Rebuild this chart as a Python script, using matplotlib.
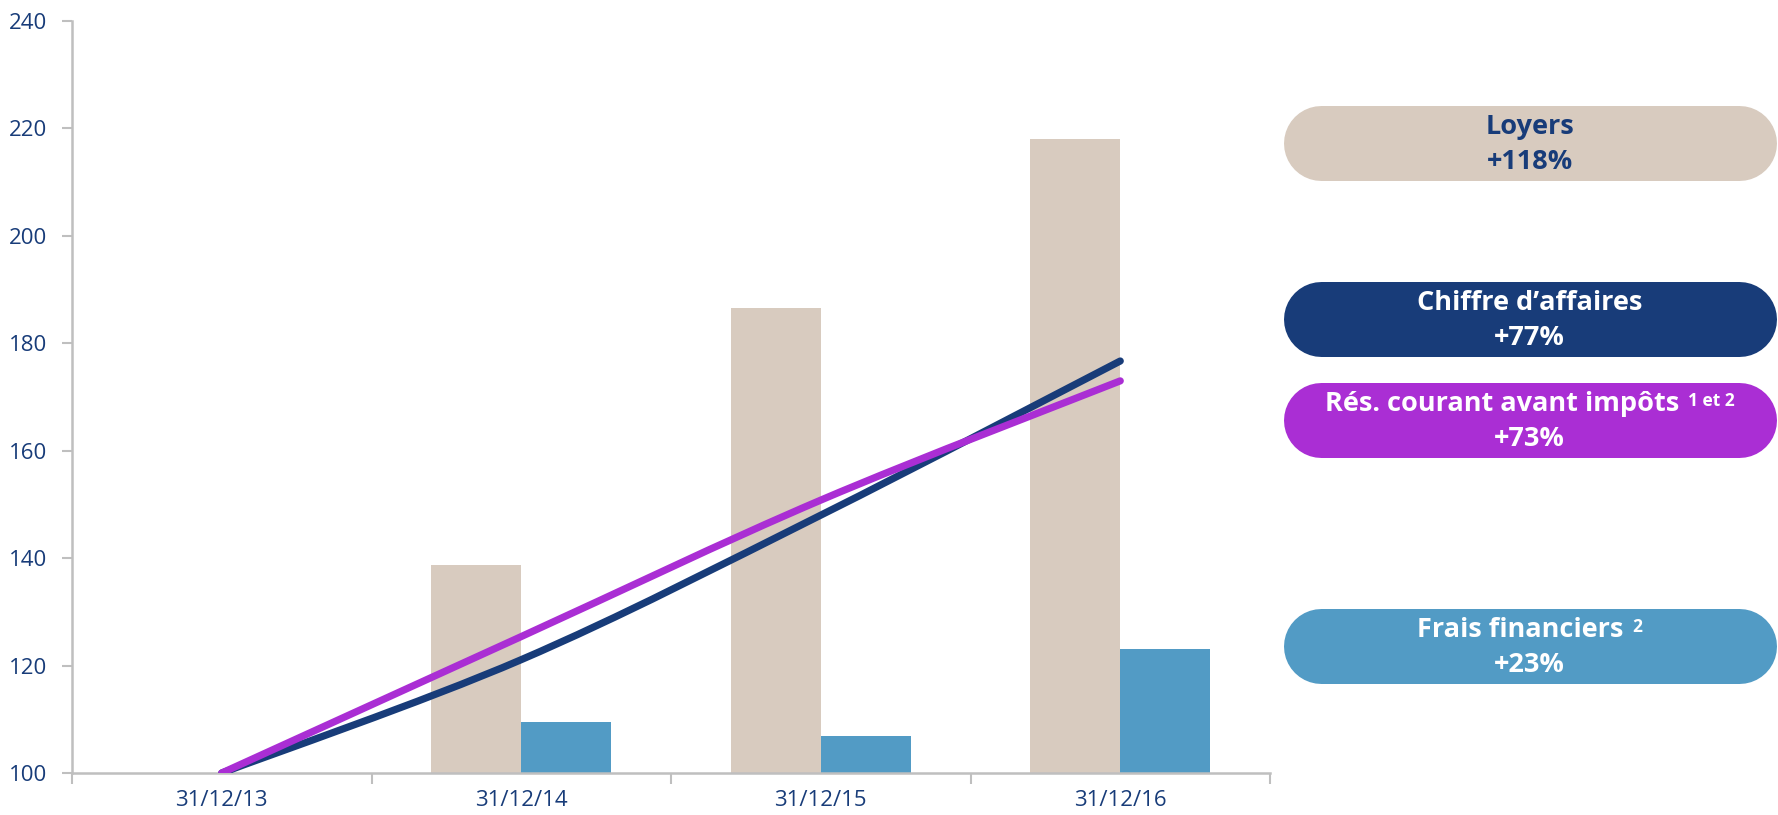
import matplotlib
matplotlib.use("Agg")
import matplotlib.pyplot as plt
import numpy as np
from matplotlib.path import Path
from matplotlib.patches import PathPatch

plt.rcParams['font.family'] = ['Open Sans', 'DejaVu Sans']

# data (index 100 at 31/12/13)
dates = ["31/12/13", "31/12/14", "31/12/15", "31/12/16"]
loyers = [100, 138.8, 186.5, 218.0]
frais = [100, 109.5, 106.8, 123.0]
chiffre = [100, 121.1, 148.0, 176.7]
resultat = [100, 125.4, 150.8, 173.0]

box_titles = ["Loyers", "Chiffre d\u2019affaires", "R\u00e9s. courant avant imp\u00f4ts", "Frais financiers"]
box_sups = ["", "", "1 et 2", "2"]
box_pcts = ["+118%", "+77%", "+73%", "+23%"]

navy = "#183c79"
beige = "#d8cbbf"
purple = "#aa2ed4"
blue = "#529bc5"
grey = "#bfbfbf"

fig = plt.figure(figsize=(17.78, 8.15), dpi=100)
ax = fig.add_axes([72 / 1778, 1 - 773 / 815, (1270 - 72) / 1778, (773 - 21) / 815])

x = np.arange(len(dates))
w = 0.30
ax.bar(x - w / 2, np.array(loyers) - 100, w, bottom=100, color=beige, zorder=1)
ax.bar(x + w / 2, np.array(frais) - 100, w, bottom=100, color=blue, zorder=1)


def smooth_path(xs, ys):
    # catmull-rom control points turned into cubic bezier segments
    pts = np.column_stack([xs, ys]).astype(float)
    verts = [pts[0]]
    codes = [Path.MOVETO]
    n = len(pts)
    for i in range(n - 1):
        p0 = pts[i - 1] if i > 0 else pts[i]
        p1 = pts[i]
        p2 = pts[i + 1]
        p3 = pts[i + 2] if i + 2 < n else pts[i + 1]
        c1 = p1 + (p2 - p0) / 6
        c2 = p2 - (p3 - p1) / 6
        verts += [c1, c2, p2]
        codes += [Path.CURVE4] * 3
    return Path(verts, codes)


for vals, col in [(chiffre, navy), (resultat, purple)]:
    patch = PathPatch(smooth_path(x, vals), facecolor="none", edgecolor=col,
                      lw=5.2, capstyle="round", joinstyle="round", zorder=3)
    ax.add_patch(patch)

ax.set_xlim(-0.5, 3.5)
ax.set_ylim(100, 240)
ax.set_yticks(range(100, 241, 20))
ax.set_xticks(x)
ax.set_xticklabels(dates)
ax.set_xticks(np.arange(-0.5, 3.6, 1), minor=True)
ax.tick_params(axis="x", which="major", length=0, pad=12, labelsize=16, labelcolor=navy)
ax.tick_params(axis="x", which="minor", length=8, width=1.5, color=grey, direction="out")
ax.tick_params(axis="y", length=7, width=1.5, color=grey, pad=11, labelsize=16, labelcolor=navy)
for s in ["top", "right"]:
    ax.spines[s].set_visible(False)
for s in ["left", "bottom"]:
    ax.spines[s].set_color(grey)
    ax.spines[s].set_linewidth(1.8)

# overlay in pixel coordinates for the labels on the right
ov = fig.add_axes([0, 0, 1, 1])
ov.set_xlim(0, 1778)
ov.set_ylim(815, 0)
ov.axis("off")

box_tops = [105, 281, 382, 608]
box_cols = [beige, navy, purple, blue]
txt_cols = [navy, "white", "white", "white"]
bx0, bx1, bh = 1283, 1776, 75
cx = (bx0 + bx1) / 2
r = fig.canvas.get_renderer()
for top, bc, tc, title, sup, pct in zip(box_tops, box_cols, txt_cols, box_titles, box_sups, box_pcts):
    # pill shape: thick line with round caps (75 px = 54 pt)
    ov.plot([bx0 + bh / 2, bx1 - bh / 2], [top + bh / 2, top + bh / 2], color=bc,
            lw=bh * 72 / 100, solid_capstyle="round")
    t1 = ov.text(cx, top + 22, title, ha="left", va="center", fontsize=19.5,
                 fontweight="bold", color=tc)
    w1 = t1.get_window_extent(r).width
    if sup:
        s = ov.text(cx, top + 10, sup, ha="left", va="top", fontsize=12.5,
                    fontweight="bold", color=tc)
        ws = s.get_window_extent(r).width
        total = w1 + 9 + ws
        t1.set_x(cx - total / 2)
        s.set_x(cx - total / 2 + w1 + 9)
    else:
        t1.set_x(cx - w1 / 2)
    ov.text(cx, top + 57, pct, ha="center", va="center", fontsize=19.5,
            fontweight="bold", color=tc)

fig.savefig("out.png", dpi=100)
